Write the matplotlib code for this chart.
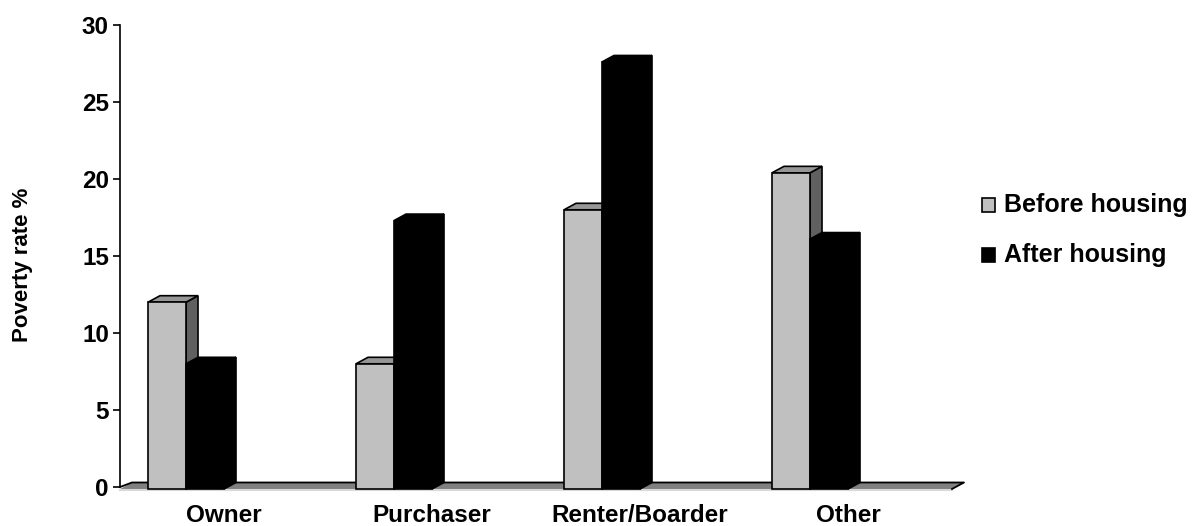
import matplotlib
matplotlib.use("Agg")
import matplotlib.pyplot as plt
from matplotlib.patches import Polygon, Rectangle

categories = ["Owner", "Purchaser", "Renter/Boarder", "Other"]
before_housing = [12.0, 8.0, 18.0, 20.4]
after_housing = [8.0, 17.3, 27.6, 16.1]
series_names = ["Before housing", "After housing"]
y_ticks = [0, 5, 10, 15, 20, 25, 30]

W, H = 1195, 526
plt.rcParams['font.family'] = ['Liberation Sans', 'DejaVu Sans']
fig = plt.figure(figsize=(W / 100, H / 100), dpi=100)

# axes placement (pixels): left 120, right 952, y=0 at 487, y=30 at 25
ax_l, ax_r = 120, 952
y0_px, y30_px = 487, 25
ax = fig.add_axes([ax_l / W, (H - y0_px) / H, (ax_r - ax_l) / W, (y0_px - y30_px) / H])
ax.set_xlim(0, len(categories))
ax.set_ylim(0, 30)

px_x = len(categories) / (ax_r - ax_l)
px_y = 30 / (y0_px - y30_px)
dx = 12 * px_x
dy = 6.5 * px_y
base = -2 * px_y  # front bottom of floor

for s in ["top", "right", "bottom"]:
    ax.spines[s].set_visible(False)
ax.spines["left"].set_linewidth(1.2)
ax.set_xticks([])
ax.set_yticks(y_ticks)
ax.set_yticklabels([str(t) for t in y_ticks], fontsize=17.5, fontweight="bold")
ax.tick_params(axis="y", direction="out", length=5, width=1.2, pad=3)

n = len(categories)
# floor
floor = Polygon([(0, base), (n, base), (n + dx, base + dy), (dx, base + dy)],
                closed=True, facecolor="#808080", edgecolor="none", clip_on=False, zorder=1)
ax.add_patch(floor)
ax.plot([0, dx, n + dx, n], [0, base + dy, base + dy, base], color="black", lw=1.3,
        clip_on=False, zorder=2)
ax.plot([0, n], [base - 1.2 * px_y, base - 1.2 * px_y], color="#d8d8d8", lw=1.5,
        clip_on=False, zorder=1)


def bar3d(x0, w, v, front, top, side):
    x1 = x0 + w
    faces = [
        ([(x1, base), (x1 + dx, base + dy), (x1 + dx, v + dy), (x1, v)], side),
        ([(x0, v), (x1, v), (x1 + dx, v + dy), (x0 + dx, v + dy)], top),
        ([(x0, base), (x1, base), (x1, v), (x0, v)], front),
    ]
    for pts, c in faces:
        ax.add_patch(Polygon(pts, closed=True, facecolor=c, edgecolor="black",
                             lw=1.2, joinstyle="miter", clip_on=False, zorder=3))


bw = 38 * px_x
for i in range(n):
    bar3d(i + 28 * px_x, bw, before_housing[i], "#c0c0c0", "#969696", "#606060")
    bar3d(i + 66 * px_x, bw, after_housing[i], "#000000", "#000000", "#000000")

# category labels
for i, c in enumerate(categories):
    fig.text((ax_l + (i + 0.5) * (ax_r - ax_l) / n) / W, 1 - 515 / H, c,
             ha="center", va="center", fontsize=17.5, fontweight="bold")

# y label
fig.text(23 / W, 1 - 265 / H, "Poverty rate %", rotation=90, ha="center", va="center",
         fontsize=16, fontweight="bold")

# legend
leg_colors = ["#c0c0c0", "#000000"]
for k, (name, col) in enumerate(zip(series_names, leg_colors)):
    cy = 205 + 50 * k
    fig.patches.append(Rectangle((982 / W, 1 - (cy + 6.5) / H), 13 / W, 13 / H,
                                 transform=fig.transFigure, facecolor=col,
                                 edgecolor="black", lw=1.2))
    fig.text(1004 / W, 1 - cy / H, name, ha="left", va="center",
             fontsize=18, fontweight="bold")

fig.savefig("out.png", dpi=100)
